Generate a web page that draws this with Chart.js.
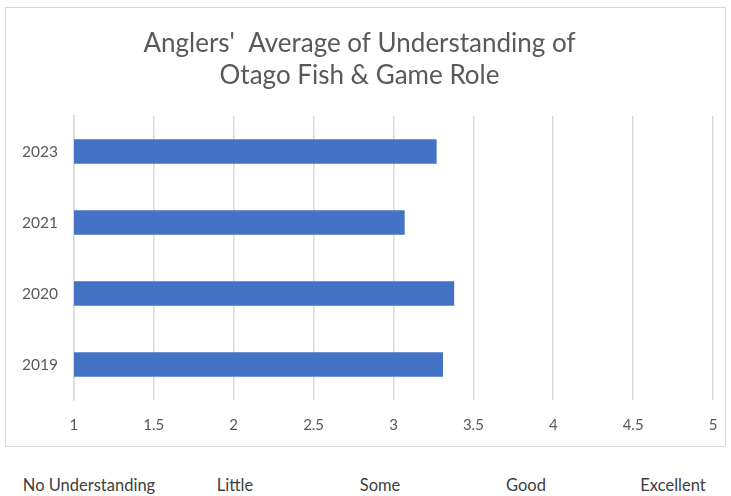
<!DOCTYPE html>
<html>
<head>
<meta charset="utf-8">
<script src="https://cdn.jsdelivr.net/npm/chart.js@4"></script>
<style>
html,body{margin:0;padding:0;background:#fff;width:731px;height:496px;overflow:hidden;font-family:Lato,"Open Sans",sans-serif;}
#box{position:absolute;left:5px;top:7px;width:721px;height:440px;border:1px solid #d9d9d9;box-sizing:border-box;}
#box canvas{display:block;}
.lbl{position:absolute;top:475px;font-size:16.5px;color:#404040;transform:translateX(-50%);white-space:nowrap;}
</style>
</head>
<body>
<div id="box"><canvas id="c" width="719" height="438"></canvas></div>
<div id="scale"></div>
<script>
const categories = ['2023', '2021', '2020', '2019'];
const averages = [3.27, 3.07, 3.38, 3.31];
const titleLines = ["Anglers'  Average of Understanding of", "Otago Fish & Game Role"];
const scaleLabels = ['No Understanding', 'Little', 'Some', 'Good', 'Excellent'];
const scaleLabelX = [89, 235, 380, 526, 673];

const sc = document.getElementById('scale');
scaleLabels.forEach((t, i) => {
  const d = document.createElement('div');
  d.className = 'lbl';
  d.textContent = t;
  d.style.left = scaleLabelX[i] + 'px';
  sc.appendChild(d);
});

new Chart(document.getElementById('c'), {
  type: 'bar',
  data: {
    labels: categories,
    datasets: [{
      data: averages,
      backgroundColor: '#4472C4',
      borderWidth: 0,
      barPercentage: 0.345,
      categoryPercentage: 1
    }]
  },
  options: {
    indexAxis: 'y',
    responsive: false,
    animation: false,
    layout: { padding: { left: 0, right: 12, top: 19, bottom: 2 } },
    plugins: {
      legend: { display: false },
      tooltip: { enabled: false },
      title: {
        display: true,
        text: titleLines,
        color: '#595959',
        font: { family: 'Lato', size: 26, weight: 'normal', lineHeight: 1.25 },
        padding: { top: 0, bottom: 24 }
      }
    },
    scales: {
      x: {
        min: 1, max: 5,
        afterFit: s => { s.paddingRight = 0; s.height = 44; },
        ticks: { stepSize: 0.5, color: '#595959', font: { family: 'Lato', size: 15 }, padding: 16,
          callback: v => String(Number(v)) },
        grid: { color: '#d9d9d9', lineWidth: 1.5, drawTicks: false },
        border: { display: false }
      },
      y: {
        ticks: { color: '#595959', font: { family: 'Lato', size: 15.5 }, padding: 16 },
        grid: { display: false, drawTicks: false },
        border: { display: true, color: '#d9d9d9', width: 1.5 }
      }
    }
  }
});
</script>
</body>
</html>
